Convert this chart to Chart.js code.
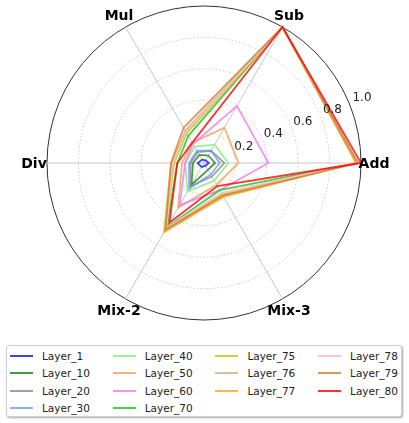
<!DOCTYPE html>
<html>
<head>
<meta charset="utf-8">
<script src="https://cdn.jsdelivr.net/npm/chart.js@4.4.0/dist/chart.umd.min.js"></script>
<style>
  body { margin: 0; background: #fff; font-family: "DejaVu Sans", sans-serif; }
  #wrap { position: absolute; left: 0; top: 0; width: 409px; height: 330px; }
  #legend {
    position: absolute; left: 6px; top: 345px; width: 396px; height: 72px;
    border: 1px solid #d0d0d0; border-radius: 3px; box-shadow: 1px 1px 2px rgba(0,0,0,0.35);
    display: grid; grid-template-columns: repeat(4, 102.7px); grid-template-rows: repeat(4, 17.5px);
    padding-top: 1px; box-sizing: border-box; background: #fff;
  }
  .item { display: flex; align-items: center; font-size: 10.5px; color: #222; padding-left: 3px; }
  .item span.h { display: inline-block; width: 23px; height: 2px; margin-right: 9px; }
</style>
</head>
<body>
<div id="wrap"><canvas id="radar" width="409" height="330"></canvas></div>
<div id="legend"></div>
<script>
// axes go clockwise from the right: Add, Mix-3, Mix-2, Div, Mul, Sub
const categories = ["Add", "Mix-3", "Mix-2", "Div", "Mul", "Sub"];
const tickValues = [0.2, 0.4, 0.6, 0.8, 1.0];

const layer_1  = [0.03, 0.02, 0.03, 0.04, 0.025, 0.02];
const layer_10 = [0.07, 0.05, 0.16, 0.07, 0.06, 0.055];
const layer_20 = [0.13, 0.10, 0.17, 0.085, 0.08, 0.09];
const layer_30 = [0.10, 0.085, 0.19, 0.095, 0.09, 0.09];
const layer_40 = [0.155, 0.13, 0.21, 0.12, 0.12, 0.135];
const layer_50 = [0.22, 0.16, 0.33, 0.14, 0.15, 0.26];
const layer_60 = [0.41, 0.20, 0.31, 0.12, 0.14, 0.42];
const layer_70 = [0.98, 0.20, 0.47, 0.17, 0.20, 1.0];
const layer_75 = [0.97, 0.23, 0.49, 0.19, 0.22, 1.0];
const layer_76 = [0.97, 0.24, 0.50, 0.20, 0.24, 1.0];
const layer_77 = [0.97, 0.25, 0.51, 0.21, 0.23, 1.0];
const layer_78 = [0.98, 0.22, 0.48, 0.20, 0.23, 1.0];
const layer_79 = [0.98, 0.24, 0.49, 0.21, 0.26, 1.0];
const layer_80 = [1.0, 0.17, 0.44, 0.17, 0.15, 1.0];

const layerNames = ["Layer_1", "Layer_10", "Layer_20", "Layer_30", "Layer_40", "Layer_50", "Layer_60",
  "Layer_70", "Layer_75", "Layer_76", "Layer_77", "Layer_78", "Layer_79", "Layer_80"];
const layerData = [layer_1, layer_10, layer_20, layer_30, layer_40, layer_50, layer_60,
  layer_70, layer_75, layer_76, layer_77, layer_78, layer_79, layer_80];

const colors = [
  "rgba(0,0,255,0.75)", "rgba(0,128,0,0.75)", "rgba(128,128,128,0.75)", "rgba(100,149,237,0.75)",
  "rgba(144,238,144,0.9)", "rgba(244,164,96,0.85)", "rgba(238,130,238,0.85)", "rgba(50,205,50,0.9)",
  "rgba(191,191,0,0.75)", "rgba(210,180,140,0.85)", "rgba(255,165,0,0.75)", "rgba(255,192,203,0.95)",
  "rgba(205,133,63,0.85)", "rgba(255,0,0,0.8)"
];
// legend fills column by column
const legendColumns = [4, 4, 3, 3];

// axis names and radial tick labels drawn in matplotlib positions
const labelPlugin = {
  id: "labels",
  afterDraw(chart) {
    const scale = chart.scales.r;
    const ctx = chart.ctx;
    ctx.save();
    ctx.fillStyle = "#000";
    ctx.font = "bold 14px 'DejaVu Sans'";
    ctx.textAlign = "center";
    ctx.textBaseline = "middle";
    categories.forEach((name, i) => {
      const p = scale.getPointPosition(i, scale.drawingArea + 13);
      ctx.fillText(name, p.x, p.y + 1);
    });
    ctx.font = "12px 'DejaVu Sans'";
    ctx.fillStyle = "#222";
    const a = scale.getIndexAngle(0) - Math.PI / 8 - Math.PI / 2;
    tickValues.forEach(v => {
      const d = scale.getDistanceFromCenterForValue(v) + 11 + 3 * v;
      ctx.fillText(v.toFixed(1), scale.xCenter + Math.cos(a) * d, scale.yCenter + Math.sin(a) * d);
    });
    ctx.restore();
  }
};

const chart = new Chart(document.getElementById("radar"), {
  type: "radar",
  data: {
    labels: categories,
    datasets: layerNames.map((name, i) => ({
      label: name,
      data: layerData[i],
      borderColor: colors[i],
      backgroundColor: colors[i],
      borderWidth: 1.8,
      fill: false,
      pointRadius: 0,
      tension: 0,
      order: -i // later layers on top
    }))
  },
  options: {
    responsive: false,
    animation: false,
    layout: { padding: { left: 47, right: 48, top: 6, bottom: 10 } },
    plugins: { legend: { display: false }, tooltip: { enabled: false } },
    scales: {
      r: {
        min: 0,
        max: 1,
        startAngle: 90,
        ticks: { display: false, stepSize: 0.2 },
        pointLabels: { display: false },
        angleLines: { color: "#c8c8c8", lineWidth: 1 },
        grid: {
          circular: true,
          color: c => (c.tick && c.tick.value > 0.99 ? "#333" : "#c8c8c8"),
          lineWidth: 1
        },
        border: { dash: c => (c.tick && c.tick.value > 0.99 ? [] : [1.5, 2]) }
      }
    }
  },
  plugins: [labelPlugin]
});

// build the legend from the chart datasets
const legend = document.getElementById("legend");
let idx = 0;
legendColumns.forEach((count, col) => {
  for (let row = 0; row < count; row++) {
    const ds = chart.data.datasets[idx++];
    const item = document.createElement("div");
    item.className = "item";
    item.style.gridColumn = col + 1;
    item.style.gridRow = row + 1;
    item.innerHTML = `<span class="h" style="background:${ds.borderColor}"></span>${ds.label}`;
    legend.appendChild(item);
  }
});
</script>
</body>
</html>
